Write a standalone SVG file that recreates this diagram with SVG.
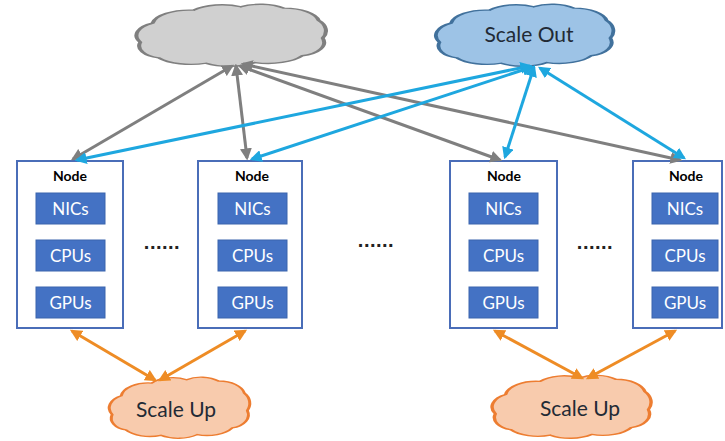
<svg xmlns="http://www.w3.org/2000/svg" width="725" height="441" viewBox="0 0 725 441">
<style>
.node{fill:#ffffff;stroke:#4a6db8;stroke-width:2}
.comp{fill:#4472c4;stroke:#3a64ad;stroke-width:1}
.ctext{font-family:Lato,"Open Sans","Liberation Sans",sans-serif;font-size:17px;fill:#ffffff;text-anchor:middle}
.ntext{font-family:Lato,"Open Sans","Liberation Sans",sans-serif;font-size:14px;font-weight:bold;fill:#000000;text-anchor:middle}
.dots{font-family:"Liberation Sans",sans-serif;font-size:20px;font-weight:bold;fill:#222222;text-anchor:middle;letter-spacing:0.5px}
.ctitle{font-family:Lato,"Open Sans","Liberation Sans",sans-serif;font-size:21px;fill:#222a35;text-anchor:middle}
.cloud{vector-effect:non-scaling-stroke;stroke-width:2}
.gray{stroke:#7f7f7f;stroke-width:3;fill:none}
.blue{stroke:#1ea7df;stroke-width:3;fill:none}
.orange{stroke:#ee8c25;stroke-width:3;fill:none}
</style>
<defs>
<path id="cloudShape" d="M 6,62 A 14,20 0 0 1 12,34 A 18,22 0 0 1 32,15 A 18,22 0 0 1 55,10 A 17,22 0 0 1 76,12 A 17,22 0 0 1 93,30 A 10,20 0 0 1 95,56 A 13,20 0 0 1 85,82 A 19,22 0 0 1 62,92 A 19,22 0 0 1 38,93 A 19,22 0 0 1 15,85 A 12,18 0 0 1 6,62 Z"/>
<marker id="ag" viewBox="0 0 10 10" refX="8" refY="5" markerWidth="4" markerHeight="4" orient="auto-start-reverse" markerUnits="strokeWidth"><path d="M0,0 L10,5 L0,10 Z" fill="#7f7f7f"/></marker>
<marker id="ab" viewBox="0 0 10 10" refX="8" refY="5" markerWidth="4" markerHeight="4" orient="auto-start-reverse" markerUnits="strokeWidth"><path d="M0,0 L10,5 L0,10 Z" fill="#1ea7df"/></marker>
<marker id="ao" viewBox="0 0 10 10" refX="8" refY="5" markerWidth="4" markerHeight="4" orient="auto-start-reverse" markerUnits="strokeWidth"><path d="M0,0 L10,5 L0,10 Z" fill="#ee8c25"/></marker>
</defs>

<g id="cloud-gray">
<use href="#cloudShape" class="cloud" transform="translate(128,0) scale(2.05,0.68)" fill="#d0d0d0" stroke="#7f7f7f"/>
</g>
<g id="cloud-scale-out">
<use href="#cloudShape" class="cloud" transform="translate(428,0) scale(1.92,0.68)" fill="#9dc3e6" stroke="#41719c"/>
<text class="ctitle" x="529" y="42">Scale Out</text>
</g>
<g id="cloud-scale-up-left">
<use href="#cloudShape" class="cloud" transform="translate(103,373) scale(1.52,0.67)" fill="#f8cbad" stroke="#ed7d31"/>
<text class="ctitle" x="176" y="417">Scale Up</text>
</g>
<g id="cloud-scale-up-right">
<use href="#cloudShape" class="cloud" transform="translate(485,371) scale(1.72,0.69)" fill="#f8cbad" stroke="#ed7d31"/>
<text class="ctitle" x="580" y="416">Scale Up</text>
</g>

<g id="node1">
<rect class="node" x="17" y="161" width="106" height="167"/>
<text class="ntext" x="70" y="181">Node</text>
<rect class="comp" x="36" y="193" width="69" height="31"/><text class="ctext" x="70.5" y="215">NICs</text>
<rect class="comp" x="36" y="240" width="69" height="31"/><text class="ctext" x="70.5" y="262">CPUs</text>
<rect class="comp" x="36" y="287" width="69" height="31"/><text class="ctext" x="70.5" y="309">GPUs</text>
</g>
<g id="node2">
<rect class="node" x="198" y="161" width="104" height="167"/>
<text class="ntext" x="252" y="181">Node</text>
<rect class="comp" x="218" y="193" width="69" height="31"/><text class="ctext" x="252.5" y="215">NICs</text>
<rect class="comp" x="218" y="240" width="69" height="31"/><text class="ctext" x="252.5" y="262">CPUs</text>
<rect class="comp" x="218" y="287" width="69" height="31"/><text class="ctext" x="252.5" y="309">GPUs</text>
</g>
<g id="node3">
<rect class="node" x="450" y="161" width="107" height="167"/>
<text class="ntext" x="504" y="181">Node</text>
<rect class="comp" x="469" y="193" width="69" height="31"/><text class="ctext" x="503.5" y="215">NICs</text>
<rect class="comp" x="469" y="240" width="69" height="31"/><text class="ctext" x="503.5" y="262">CPUs</text>
<rect class="comp" x="469" y="287" width="69" height="31"/><text class="ctext" x="503.5" y="309">GPUs</text>
</g>
<g id="node4">
<rect class="node" x="633" y="161" width="89" height="167"/>
<text class="ntext" x="686" y="181">Node</text>
<rect class="comp" x="652" y="193" width="66" height="31"/><text class="ctext" x="685" y="215">NICs</text>
<rect class="comp" x="652" y="240" width="66" height="31"/><text class="ctext" x="685" y="262">CPUs</text>
<rect class="comp" x="652" y="287" width="66" height="31"/><text class="ctext" x="685" y="309">GPUs</text>
</g>

<g id="dots">
<text class="dots" x="162" y="249">......</text>
<text class="dots" x="376" y="247">......</text>
<text class="dots" x="595" y="249">......</text>
</g>

<g id="connectors">
<line class="gray" x1="232" y1="66" x2="73" y2="159" marker-start="url(#ag)" marker-end="url(#ag)"/>
<line class="gray" x1="236" y1="66" x2="247" y2="158" marker-start="url(#ag)" marker-end="url(#ag)"/>
<line class="gray" x1="240" y1="66" x2="500" y2="160" marker-start="url(#ag)" marker-end="url(#ag)"/>
<line class="gray" x1="243" y1="64" x2="680" y2="160" marker-start="url(#ag)" marker-end="url(#ag)"/>
<line class="blue" x1="530" y1="66" x2="77" y2="160" marker-start="url(#ab)" marker-end="url(#ab)"/>
<line class="blue" x1="532" y1="67" x2="252" y2="159" marker-start="url(#ab)" marker-end="url(#ab)"/>
<line class="blue" x1="534" y1="67" x2="505" y2="157" marker-start="url(#ab)" marker-end="url(#ab)"/>
<line class="blue" x1="540" y1="68" x2="684" y2="158" marker-start="url(#ab)" marker-end="url(#ab)"/>
<line class="orange" x1="72" y1="331" x2="155" y2="380" marker-start="url(#ao)" marker-end="url(#ao)"/>
<line class="orange" x1="245" y1="331" x2="160" y2="380" marker-start="url(#ao)" marker-end="url(#ao)"/>
<line class="orange" x1="495" y1="331" x2="582" y2="378" marker-start="url(#ao)" marker-end="url(#ao)"/>
<line class="orange" x1="675" y1="331" x2="588" y2="378" marker-start="url(#ao)" marker-end="url(#ao)"/>
</g>
</svg>
